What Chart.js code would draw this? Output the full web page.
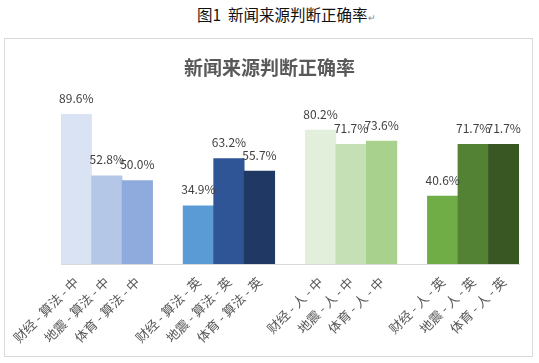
<!DOCTYPE html>
<html>
<head>
<meta charset="utf-8">
<script src="https://cdn.jsdelivr.net/npm/chart.js@4"></script>
<style>
  html, body { margin: 0; padding: 0; background: #fff; }
  body { width: 539px; height: 363px; position: relative; overflow: hidden; font-family: "Noto Sans CJK SC", sans-serif; }
  #caption { position: absolute; left: 197px; top: 3px; font-size: 15.5px; line-height: 22px; font-weight: normal; color: #111; white-space: nowrap; }
  #caption .mark { font-size: 9px; color: #888; }
  #frame { position: absolute; left: 4px; top: 38px; width: 527px; height: 317px; border: 1px solid #d9d9d9; }
  #frame canvas { position: absolute; left: 0; top: 0; }
  #chartTitle { position: absolute; left: 0; width: 529px; top: 16px; text-align: center; font-size: 19px; line-height: 24px; font-weight: bold; color: #595959; }
</style>
</head>
<body>
<div id="caption">图1&nbsp; 新闻来源判断正确率<span class="mark">↵</span></div>
<div id="frame"><canvas id="myChart" width="527" height="317"></canvas><div id="chartTitle">新闻来源判断正确率</div></div>
<script>
// 各柱子的类别名称
const categories = [
  '财经 - 算法 - 中', '地震 - 算法 - 中', '体育 - 算法 - 中',
  '财经 - 算法 - 英', '地震 - 算法 - 英', '体育 - 算法 - 英',
  '财经 - 人 - 中', '地震 - 人 - 中', '体育 - 人 - 中',
  '财经 - 人 - 英', '地震 - 人 - 英', '体育 - 人 - 英'
];
// 正确率 (%)
const accuracy = [89.6, 52.8, 50.0, 34.9, 63.2, 55.7, 80.2, 71.7, 73.6, 40.6, 71.7, 71.7];
const barColors = [
  '#dae3f3', '#b4c7e7', '#8faadc',
  '#5b9bd5', '#2f5597', '#203864',
  '#e2efda', '#c5e0b4', '#a9d18e',
  '#70ad47', '#548235', '#385723'
];

// 每组3根柱子之间插一个空位
const labels = [], values = [], colors = [];
categories.forEach((c, i) => {
  if (i > 0 && i % 3 === 0) { labels.push(''); values.push(null); colors.push('rgba(0,0,0,0)'); }
  labels.push(c); values.push(accuracy[i]); colors.push(barColors[i]);
});

// 柱顶数值标签
const valueLabels = {
  id: 'valueLabels',
  afterDatasetsDraw(chart) {
    const ctx = chart.ctx;
    const meta = chart.getDatasetMeta(0);
    ctx.save();
    ctx.font = '12px "Noto Sans CJK SC", sans-serif';
    ctx.fillStyle = '#404040';
    ctx.textAlign = 'center';
    ctx.textBaseline = 'middle';
    meta.data.forEach((bar, i) => {
      const v = values[i];
      if (v == null) return;
      ctx.fillText(v.toFixed(1) + '%', bar.x, bar.y - 16);
    });
    ctx.restore();
  }
};

const ctx = document.getElementById('myChart').getContext('2d');
const myChart = new Chart(ctx, {
  type: 'bar',
  data: {
    labels: labels,
    datasets: [{
      data: values,
      backgroundColor: colors,
      barPercentage: 1,
      categoryPercentage: 1
    }]
  },
  options: {
    responsive: false,
    animation: false,
    layout: { padding: { top: 58, right: 13, left: 56, bottom: 0 } },
    plugins: {
      legend: { display: false },
      tooltip: { enabled: false },
      title: { display: false }
    },
    scales: {
      y: { display: false, min: 0, max: 100 },
      x: {
        grid: { display: false },
        border: { color: '#d9d9d9' },
        ticks: {
          color: '#595959',
          font: { size: 13, family: '"Noto Sans CJK SC", sans-serif' },
          minRotation: 45,
          maxRotation: 45,
          autoSkip: false,
          padding: 2
        },
        afterFit: s => { s.height = 92; }
      }
    }
  },
  plugins: [valueLabels]
});
</script>
</body>
</html>
